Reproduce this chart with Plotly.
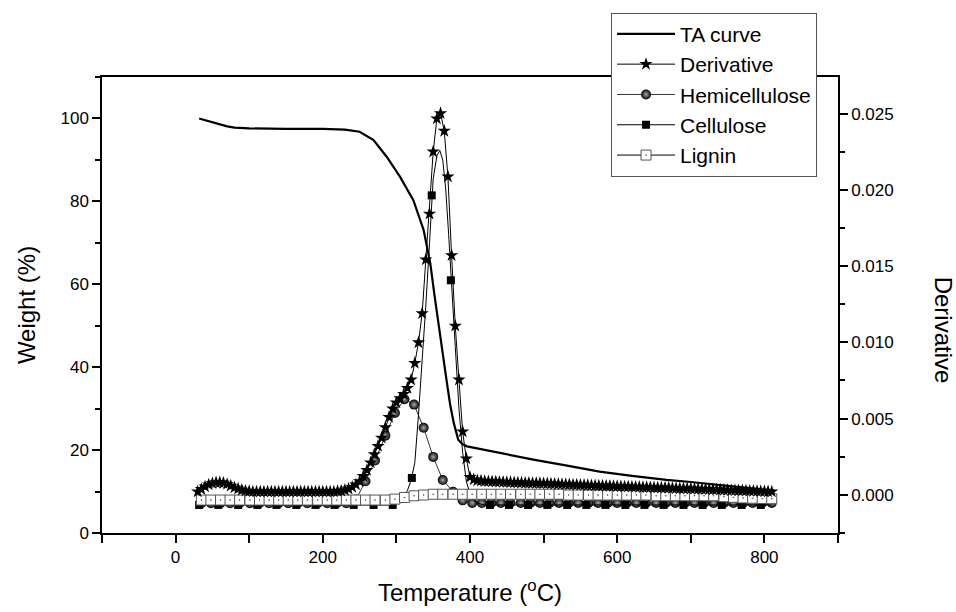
import plotly.graph_objects as go

# ---------------- data ----------------
# TA curve (left axis, weight %)
ta_temp = [32, 40, 50, 60, 70, 80, 100, 150, 200, 230,
           250, 269, 287, 305, 323, 337, 346, 352, 358, 363,
           368, 373, 378, 384, 390, 396, 420, 441, 486, 530,
           576, 620, 667, 700, 735, 770, 810]
ta_weight = [100.0, 99.6, 99.0, 98.5, 98.1, 97.8, 97.6, 97.5, 97.5, 97.3,
             96.8, 94.8, 90.7, 85.9, 80.3, 73.1, 65.1, 57.0, 49.0, 43.0,
             37.0, 31.0, 26.5, 22.5, 21.4, 20.9, 20.0, 19.3, 17.7, 16.3,
             14.8, 13.8, 12.8, 12.3, 11.6, 11.0, 10.3]

# Derivative (right axis), sampled every 5 degC from 30 to 810
deriv_temp = list(range(30, 815, 5))
deriv_value = [
    0.00021, 0.00037, 0.00054, 0.00067, 0.00075, 0.00081, 0.00081, 0.00078, 0.00070, 0.00059,   # 30-75
    0.00048, 0.00040, 0.00032, 0.00026, 0.00024, 0.00021, 0.00021, 0.00021, 0.00021, 0.00021,   # 80-125
    0.00021, 0.00021, 0.00021, 0.00021, 0.00021, 0.00021, 0.00021, 0.00021, 0.00021, 0.00021,   # 130-175
    0.00021, 0.00021, 0.00021, 0.00021, 0.00021, 0.00021, 0.00021, 0.00021, 0.00024, 0.00026,   # 180-225
    0.00032, 0.00040, 0.00051, 0.00067, 0.00089, 0.00122, 0.00162, 0.00211, 0.00266, 0.00320,   # 230-275
    0.00374, 0.00442, 0.00510, 0.00565, 0.00605, 0.00632, 0.00660, 0.00700, 0.00755, 0.00864,   # 280-325
    0.00999, 0.01190, 0.01543, 0.01842, 0.02250, 0.02467, 0.02502, 0.02386, 0.02087, 0.01570,   # 330-375
    0.01108, 0.00755, 0.00415, 0.00238, 0.00116, 0.00100, 0.00094, 0.00092, 0.00089, 0.00088,   # 380-425
    0.00087, 0.00086, 0.00085, 0.00084, 0.00083, 0.00082, 0.00081, 0.00080, 0.00079, 0.00078,   # 430-475
    0.00078, 0.00077, 0.00076, 0.00076, 0.00075, 0.00074, 0.00073, 0.00072, 0.00071, 0.00070,   # 480-525
    0.00069, 0.00068, 0.00067, 0.00066, 0.00065, 0.00064, 0.00063, 0.00062, 0.00061, 0.00060,   # 530-575
    0.00059, 0.00058, 0.00058, 0.00057, 0.00056, 0.00055, 0.00054, 0.00054, 0.00053, 0.00052,   # 580-625
    0.00051, 0.00050, 0.00050, 0.00049, 0.00048, 0.00047, 0.00046, 0.00046, 0.00045, 0.00044,   # 630-675
    0.00043, 0.00042, 0.00042, 0.00041, 0.00040, 0.00039, 0.00038, 0.00038, 0.00037, 0.00036,   # 680-725
    0.00035, 0.00034, 0.00033, 0.00032, 0.00031, 0.00030, 0.00029, 0.00028, 0.00028, 0.00027,   # 730-775
    0.00026, 0.00025, 0.00024, 0.00023, 0.00022, 0.00022, 0.00021,                              # 780-810
]

# Component grid (hemicellulose and lignin markers)
comp_temp = [35, 48, 61, 74, 87, 101, 114, 127, 140, 153,
             166, 179, 193, 206, 219, 232, 245, 258, 271, 285,
             298, 311, 324, 337, 350, 363, 377, 390, 403, 416,
             429, 442, 455, 469, 482, 495, 508, 521, 534, 547,
             561, 574, 587, 600, 613, 626, 639, 653, 666, 679,
             692, 705, 718, 731, 745, 758, 771, 784, 797, 810]

hemi_value = [-0.00055, -0.00055, -0.00055, -0.00055, -0.00055, -0.00055, -0.00055, -0.00055, -0.00055, -0.00055,
              -0.00055, -0.00055, -0.00055, -0.00055, -0.00055, -0.00055, -0.00030, 0.00089, 0.00225, 0.00388,
              0.00537, 0.00627, 0.00592, 0.00440, 0.00249, 0.00097, 0.00021, -0.00036, -0.00053, -0.00053,
              -0.00053, -0.00053, -0.00053, -0.00053, -0.00053, -0.00053, -0.00053, -0.00053, -0.00053, -0.00053,
              -0.00053, -0.00053, -0.00053, -0.00053, -0.00053, -0.00053, -0.00053, -0.00053, -0.00053, -0.00053,
              -0.00053, -0.00053, -0.00053, -0.00053, -0.00053, -0.00053, -0.00053, -0.00053, -0.00053, -0.00053]

lignin_value = [-0.00034, -0.00034, -0.00034, -0.00034, -0.00034, -0.00034, -0.00034, -0.00034, -0.00034, -0.00034,
                -0.00034, -0.00034, -0.00034, -0.00034, -0.00034, -0.00034, -0.00034, -0.00034, -0.00034, -0.00034,
                -0.00028, -0.00017, -0.00006, -0.00001, 0.00004, 0.00004, 0.00004, 0.00004, 0.00004, 0.00004,
                0.00004, 0.00004, 0.00004, 0.00004, 0.00004, 0.00004, 0.00004, 0.00004, -0.00001, -0.00001,
                -0.00001, -0.00001, -0.00001, -0.00001, -0.00001, -0.00001, -0.00001, -0.00006, -0.00006, -0.00006,
                -0.00006, -0.00006, -0.00006, -0.00006, -0.00012, -0.00016, -0.00020, -0.00022, -0.00024, -0.00025]

# Cellulose: markers and the smooth fitted curve
cell_marker_temp = [32, 58, 85, 111, 137, 164, 190, 216, 242, 269,
                    295, 321, 348, 374, 400, 427, 453, 479, 505, 532,
                    558, 584, 611, 637, 663, 690, 716, 742, 769, 795]
cell_marker_value = [-0.00066, -0.00066, -0.00066, -0.00066, -0.00066, -0.00066, -0.00066, -0.00066, -0.00066, -0.00066,
                     -0.00066, 0.00111, 0.01964, 0.01407, 0.00007, -0.00066, -0.00066, -0.00066, -0.00066, -0.00066,
                     -0.00066, -0.00066, -0.00066, -0.00066, -0.00066, -0.00066, -0.00066, -0.00066, -0.00066, -0.00066]
cell_curve_temp = [32, 290, 300, 305, 310, 315, 320, 325, 330, 335,
                   340, 345, 348, 350, 355, 359, 363, 367, 371, 375,
                   380, 385, 390, 395, 400, 405, 410, 420, 810]
cell_curve_value = [-0.00066, -0.00066, -0.00061, -0.00047, -0.00020, 0.00029, 0.00097, 0.00211, 0.00524, 0.00864,
                    0.01244, 0.01652, 0.01964, 0.02073, 0.02223, 0.02258, 0.02195, 0.02005, 0.01706, 0.01407,
                    0.00972, 0.00565, 0.00279, 0.00089, 0.00007, -0.00034, -0.00055, -0.00066, -0.00066]

# ---------------- figure ----------------
FONT = "Liberation Sans, Arial, sans-serif"
fig = go.Figure()

fig.add_trace(go.Scatter(x=ta_temp, y=ta_weight, mode="lines", name="TA curve",
                         line=dict(color="black", width=2.2), legendrank=1, yaxis="y"))

fig.add_trace(go.Scatter(x=comp_temp, y=hemi_value, mode="lines+markers", name="Hemicellulose",
                         line=dict(color="black", width=0.8),
                         marker=dict(symbol="circle", size=10, color="black",
                                     gradient=dict(type="radial", color="#a8a8a8"),
                                     line=dict(width=0)),
                         legendrank=3, yaxis="y2"))

fig.add_trace(go.Scatter(x=cell_curve_temp, y=cell_curve_value, mode="lines", showlegend=False,
                         line=dict(color="black", width=1), yaxis="y2"))
fig.add_trace(go.Scatter(x=cell_marker_temp, y=cell_marker_value, mode="markers", showlegend=False,
                         marker=dict(symbol="square", size=8, color="black"), yaxis="y2"))
fig.add_trace(go.Scatter(x=[None], y=[None], mode="lines+markers", name="Cellulose",
                         line=dict(color="black", width=1),
                         marker=dict(symbol="square", size=8, color="black"),
                         legendrank=4, yaxis="y2"))

fig.add_trace(go.Scatter(x=comp_temp, y=lignin_value, mode="lines+markers", name="Lignin",
                         line=dict(color="black", width=1),
                         marker=dict(symbol="square-dot", size=10, color="white",
                                     line=dict(color="#555555", width=1)),
                         legendrank=5, yaxis="y2"))

fig.add_trace(go.Scatter(x=deriv_temp, y=deriv_value, mode="lines+markers", name="Derivative",
                         line=dict(color="black", width=1),
                         marker=dict(symbol="star", size=10, color="black", line=dict(width=0)),
                         legendrank=2, yaxis="y2"))

axis_common = dict(showline=True, linecolor="black", linewidth=1.5, ticks="outside",
                   ticklen=8, tickwidth=1.5, tickcolor="black", showgrid=False, zeroline=False,
                   tickfont=dict(family=FONT, size=17, color="black"))

fig.update_layout(
    width=956, height=612,
    margin=dict(l=102, r=118, t=77, b=79),
    paper_bgcolor="white", plot_bgcolor="white",
    font=dict(family=FONT, color="black"),
    xaxis=dict(range=[-100, 900], tick0=0, dtick=200, mirror=True,
               minor=dict(dtick=100, ticklen=8, tickwidth=1.5, tickcolor="black", ticks="outside"),
               title=dict(text="Temperature (<sup>o</sup>C)", font=dict(family=FONT, size=24), standoff=18),
               automargin=False, **axis_common),
    yaxis=dict(range=[0, 110], tick0=0, dtick=20,
               minor=dict(dtick=10, ticklen=5, tickwidth=1.5, tickcolor="black", ticks="outside"),
               title=dict(text="Weight (%)", font=dict(family=FONT, size=24), standoff=18),
               automargin=False, **axis_common),
    yaxis2=dict(range=[-0.0025, 0.0274], tick0=0, dtick=0.005, tickformat=".3f",
                overlaying="y", side="right",
                minor=dict(dtick=0.0025, ticklen=5, tickwidth=1.5, tickcolor="black", ticks="outside"),
                automargin=False, **axis_common),
    legend=dict(x=0.6916, y=1.141, xanchor="left", yanchor="top",
                bgcolor="white", bordercolor="#555555", borderwidth=1,
                font=dict(family=FONT, size=21, color="black"),
                itemwidth=58, tracegroupgap=0),
    annotations=[dict(text="Derivative", textangle=90, xref="paper", yref="paper",
                      x=1.1427, y=0.4458, xanchor="center", yanchor="middle", showarrow=False,
                      font=dict(family=FONT, size=24, color="black"))],
)

fig.write_html("out.html")
